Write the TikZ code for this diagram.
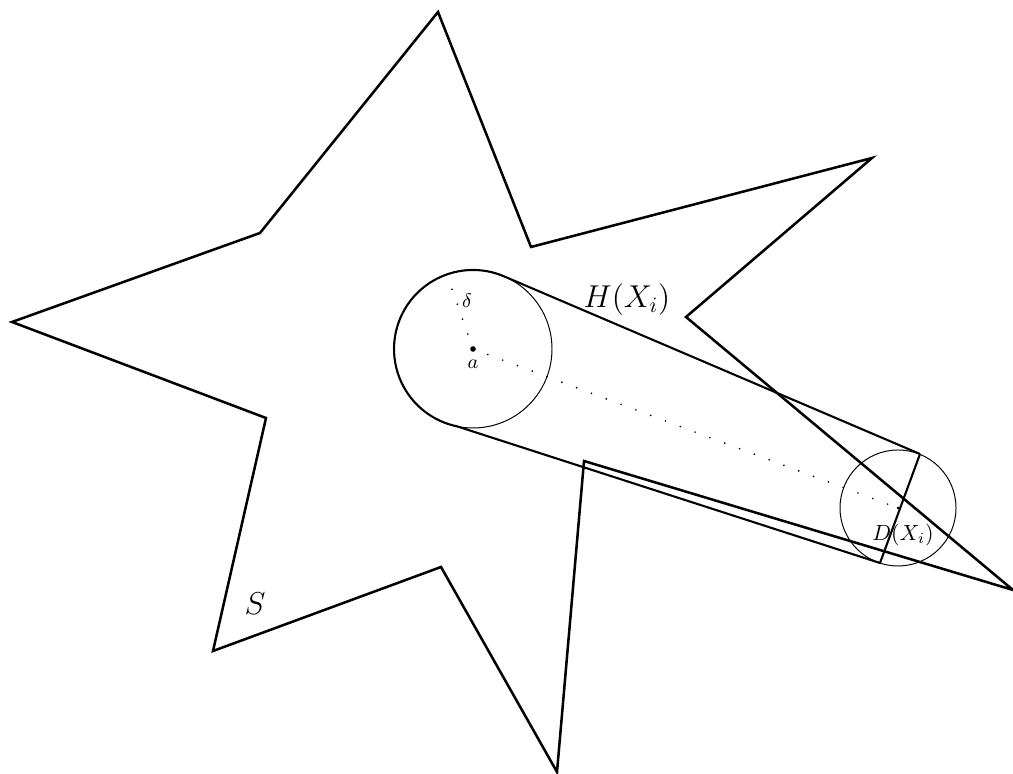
\documentclass[tikz,border=0pt]{standalone}
\usepackage{amsmath,amssymb}
\usepackage{tikz}
\usetikzlibrary{calc}
\tikzset{
  starline/.style={line width=1.15pt,line join=miter},
  hull/.style={line width=.95pt},
  thinline/.style={line width=.45pt},
  radline/.style={line width=.85pt,line cap=round,dash pattern=on 0pt off 7.2pt},
  lab/.style={inner sep=1pt},
  biglab/.style={lab,font=\Large}
}

\begin{document}
\begin{tikzpicture}[x=.016cm,y=.016cm]
    \useasboundingbox (0,0) rectangle (1013,774);
    % star S
    \coordinate (s1) at (438,762); \coordinate (s2) at (531,527);
    \coordinate (s3) at (872,616); \coordinate (s4) at (686,457);
    \coordinate (s5) at (1013,184); \coordinate (s6) at (584,313);
    \coordinate (s7) at (557,2); \coordinate (s8) at (441,207);
    \coordinate (s9) at (213,123); \coordinate (s10) at (266,356);
    \coordinate (s11) at (12,452); \coordinate (s12) at (260,541);
    \draw[starline] (s1)--(s2)--(s3)--(s4)--(s5)--(s6)--(s7)--(s8)--(s9)--(s10)--(s11)--(s12)--cycle;
    % ball at a and the disc D(X_i)
    \coordinate (a) at (473,425); \coordinate (c) at (898,266);
    \coordinate (t1) at ($(a)+(66.6:79)$); \coordinate (t2) at ($(a)+(258.4:79)$);
    \coordinate (p1) at (920,320); \coordinate (p2) at (880,211);
    \coordinate (r) at ($(a)+(109.3:79)$);
    \draw[thinline] (a) circle[radius=79];
    \draw[thinline] (c) circle[radius=58];
    \draw[hull] (t1) arc[start angle=66.6,end angle=258.4,radius=79];
    \draw[hull] (t1)--(p1); \draw[hull] (t2)--(p2);
    \draw[hull] (p1)--(p2);
    \draw[radline] (a)--(c); \draw[radline] (a)--(r);
    \fill (a) circle[radius=2.8]; \fill (c) circle[radius=1.5];
    % labels
    \node[lab] (alab) at (473,410) {\small$a$};
    \node[lab] (dlab) at (467,473) {\small$\delta$};
    \node[biglab] (hlab) at (627,474) {$H(X_i)$};
    \node[lab] (Dlab) at (903,239) {$D(X_i)$};
    \node[biglab] (slab) at (255,170) {$S$};
  \end{tikzpicture}
\end{document}
